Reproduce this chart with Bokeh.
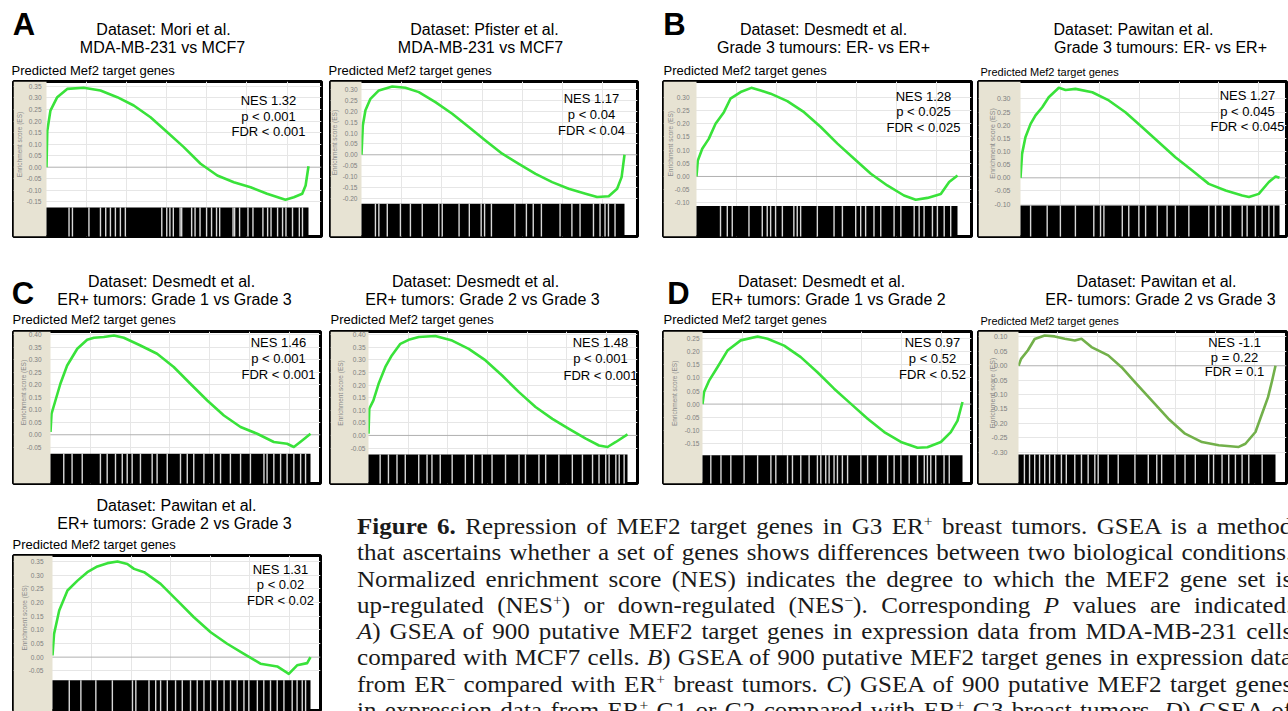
import math
from bokeh.plotting import figure
from bokeh.layouts import column, row
from bokeh.models import (Range1d, FixedTicker, Grid, BoxAnnotation, Span, Label,
                          Div, LinearAxis, NumeralTickFormatter)
from bokeh.core.properties import value
from bokeh.embed import file_html
from bokeh.resources import INLINE

FONT = "Liberation Sans"
BEIGE = "#e7e3d3"
GREEN = "#39e23a"
OLIVE = "#72b04a"

# ---------------- data: running enrichment score (x = fraction of ranked list) ----------------
A1_x = [0, 0.003, 0.015, 0.041, 0.079, 0.142, 0.206, 0.27, 0.333, 0.397, 0.46, 0.524, 0.588, 0.652, 0.715, 0.779, 0.842, 0.912, 0.944, 0.976, 0.989, 1.0]
A1_es = [0.0, 0.158, 0.245, 0.303, 0.339, 0.344, 0.332, 0.303, 0.267, 0.216, 0.152, 0.087, 0.015, -0.036, -0.065, -0.087, -0.115, -0.141, -0.13, -0.115, -0.079, 0.004]
A1_gaps = [0.086, 0.099, 0.162, 0.206, 0.226, 0.244, 0.263, 0.282, 0.301, 0.44, 0.459, 0.471, 0.484, 0.51, 0.516, 0.554, 0.567, 0.586, 0.611, 0.63, 0.649, 0.661, 0.712, 0.718, 0.737, 0.769, 0.788, 0.826, 0.844, 0.857, 0.882, 0.901, 0.914, 0.939, 0.965, 0.977]
A1_ticks = [-0.15, -0.10, -0.05, 0.0, 0.05, 0.10, 0.15, 0.20, 0.25, 0.30, 0.35]

A2_x = [0, 0.005, 0.015, 0.034, 0.066, 0.117, 0.167, 0.218, 0.281, 0.345, 0.408, 0.471, 0.535, 0.598, 0.662, 0.725, 0.788, 0.852, 0.896, 0.94, 0.972, 0.989, 1.0]
A2_es = [0.0, 0.135, 0.205, 0.258, 0.297, 0.315, 0.309, 0.289, 0.243, 0.189, 0.128, 0.066, 0.005, -0.042, -0.088, -0.126, -0.157, -0.18, -0.195, -0.191, -0.157, -0.103, 0.0]
A2_gaps = [0.053, 0.066, 0.098, 0.148, 0.186, 0.231, 0.294, 0.307, 0.371, 0.41, 0.455, 0.468, 0.494, 0.583, 0.627, 0.653, 0.684, 0.755, 0.8, 0.831, 0.882, 0.907, 0.926, 0.939, 0.964]
A2_ticks = [-0.20, -0.15, -0.10, -0.05, 0.0, 0.05, 0.10, 0.15, 0.20, 0.25, 0.30]

B1_x = [0, 0.005, 0.022, 0.047, 0.073, 0.105, 0.13, 0.169, 0.21, 0.246, 0.284, 0.348, 0.412, 0.476, 0.54, 0.604, 0.668, 0.731, 0.795, 0.84, 0.885, 0.936, 0.968, 1.0]
B1_es = [0.0, 0.06, 0.105, 0.142, 0.199, 0.243, 0.294, 0.319, 0.335, 0.325, 0.313, 0.285, 0.243, 0.187, 0.124, 0.067, 0.01, -0.034, -0.072, -0.088, -0.081, -0.066, -0.021, 0.004]
B1_gaps = [0.092, 0.118, 0.137, 0.201, 0.252, 0.271, 0.284, 0.303, 0.329, 0.373, 0.386, 0.399, 0.463, 0.527, 0.559, 0.61, 0.629, 0.648, 0.68, 0.706, 0.757, 0.783, 0.834, 0.853, 0.872, 0.904, 0.923, 0.949, 0.974]
B1_ticks = [-0.10, -0.05, 0.0, 0.05, 0.10, 0.15, 0.20, 0.25, 0.30]

B2_x = [0, 0.006, 0.019, 0.039, 0.058, 0.084, 0.109, 0.148, 0.174, 0.212, 0.277, 0.341, 0.405, 0.47, 0.534, 0.598, 0.663, 0.727, 0.792, 0.856, 0.882, 0.92, 0.959, 0.985, 1.0]
B2_es = [0.0, 0.091, 0.154, 0.205, 0.237, 0.268, 0.306, 0.342, 0.334, 0.338, 0.325, 0.294, 0.249, 0.192, 0.135, 0.078, 0.028, -0.023, -0.048, -0.067, -0.073, -0.061, -0.016, 0.005, 0.0]
B2_gaps = [0.039, 0.103, 0.154, 0.212, 0.283, 0.309, 0.322, 0.393, 0.418, 0.457, 0.483, 0.528, 0.566, 0.598, 0.65, 0.727, 0.753, 0.779, 0.811, 0.856, 0.875, 0.907, 0.933, 0.959, 0.978]
B2_ticks = [-0.10, -0.05, 0.0, 0.05, 0.10, 0.15, 0.20, 0.25, 0.30]

C1_x = [0, 0.004, 0.019, 0.038, 0.064, 0.103, 0.141, 0.167, 0.205, 0.244, 0.282, 0.346, 0.41, 0.474, 0.538, 0.603, 0.667, 0.731, 0.795, 0.859, 0.91, 0.936, 0.968, 1.0]
C1_es = [0.011, 0.084, 0.137, 0.204, 0.277, 0.344, 0.38, 0.388, 0.391, 0.397, 0.388, 0.357, 0.324, 0.271, 0.204, 0.137, 0.077, 0.031, 0.004, -0.029, -0.036, -0.049, -0.023, 0.004]
C1_gaps = [0.051, 0.083, 0.122, 0.192, 0.218, 0.25, 0.276, 0.295, 0.314, 0.346, 0.391, 0.41, 0.449, 0.5, 0.526, 0.551, 0.59, 0.628, 0.654, 0.692, 0.731, 0.769, 0.821, 0.833, 0.859, 0.885, 0.91, 0.936, 0.962, 0.981]
C1_ticks = [-0.05, 0.0, 0.05, 0.10, 0.15, 0.20, 0.25, 0.30, 0.35, 0.40]

C2_x = [0, 0.003, 0.019, 0.039, 0.065, 0.09, 0.123, 0.155, 0.194, 0.258, 0.323, 0.387, 0.452, 0.516, 0.581, 0.645, 0.71, 0.774, 0.839, 0.89, 0.923, 0.955, 1.0]
C2_es = [0.007, 0.106, 0.139, 0.205, 0.272, 0.318, 0.364, 0.38, 0.391, 0.395, 0.377, 0.344, 0.298, 0.238, 0.172, 0.113, 0.066, 0.026, -0.013, -0.04, -0.046, -0.026, 0.004]
C2_gaps = [0.045, 0.077, 0.11, 0.142, 0.194, 0.226, 0.245, 0.277, 0.323, 0.374, 0.406, 0.439, 0.477, 0.529, 0.581, 0.606, 0.658, 0.684, 0.735, 0.787, 0.826, 0.865, 0.89, 0.916, 0.929, 0.955, 0.968, 0.987]
C2_ticks = [-0.05, 0.0, 0.05, 0.10, 0.15, 0.20, 0.25, 0.30, 0.35, 0.40]

D1_x = [0, 0.006, 0.026, 0.058, 0.096, 0.147, 0.212, 0.25, 0.314, 0.378, 0.442, 0.506, 0.571, 0.635, 0.699, 0.763, 0.827, 0.865, 0.917, 0.955, 0.981, 1.0]
D1_es = [0.0, 0.046, 0.091, 0.142, 0.205, 0.244, 0.259, 0.25, 0.224, 0.18, 0.122, 0.059, 0.001, -0.056, -0.107, -0.145, -0.167, -0.165, -0.145, -0.107, -0.063, 0.008]
D1_gaps = [0.032, 0.071, 0.109, 0.16, 0.212, 0.263, 0.282, 0.327, 0.346, 0.378, 0.41, 0.442, 0.455, 0.474, 0.487, 0.506, 0.519, 0.538, 0.558, 0.609, 0.635, 0.673, 0.712, 0.737, 0.763, 0.795, 0.827, 0.853, 0.865, 0.878, 0.897, 0.929, 0.949]
D1_ticks = [-0.15, -0.10, -0.05, 0.0, 0.05, 0.10, 0.15, 0.20, 0.25]

D2_x = [0, 0.01, 0.036, 0.063, 0.102, 0.141, 0.18, 0.219, 0.245, 0.284, 0.349, 0.401, 0.453, 0.518, 0.583, 0.648, 0.714, 0.779, 0.857, 0.883, 0.922, 0.948, 0.971, 0.987, 1.0]
D2_es = [0.0, 0.024, 0.053, 0.093, 0.105, 0.102, 0.094, 0.088, 0.094, 0.065, 0.036, -0.005, -0.057, -0.12, -0.184, -0.236, -0.265, -0.276, -0.282, -0.271, -0.23, -0.166, -0.109, -0.051, 0.0]
D2_gaps = [0.023, 0.043, 0.063, 0.082, 0.102, 0.121, 0.141, 0.167, 0.186, 0.219, 0.245, 0.271, 0.297, 0.31, 0.349, 0.388, 0.453, 0.505, 0.538, 0.557, 0.609, 0.648, 0.688, 0.74, 0.759, 0.792, 0.818, 0.844, 0.87, 0.896, 0.948]
D2_ticks = [-0.30, -0.25, -0.20, -0.15, -0.10, -0.05, 0.0, 0.05, 0.10]

C3_x = [0, 0.006, 0.026, 0.058, 0.097, 0.135, 0.174, 0.213, 0.252, 0.29, 0.316, 0.355, 0.419, 0.484, 0.548, 0.613, 0.677, 0.742, 0.806, 0.871, 0.916, 0.948, 0.987, 1.0]
C3_es = [0.006, 0.085, 0.171, 0.244, 0.28, 0.311, 0.332, 0.344, 0.35, 0.341, 0.323, 0.311, 0.268, 0.207, 0.146, 0.091, 0.049, 0.012, -0.024, -0.034, -0.061, -0.03, -0.022, 0.0]
C3_gaps = [0.065, 0.11, 0.168, 0.232, 0.31, 0.323, 0.374, 0.4, 0.419, 0.445, 0.477, 0.503, 0.535, 0.561, 0.587, 0.613, 0.639, 0.665, 0.69, 0.716, 0.742, 0.761, 0.794, 0.819, 0.845, 0.871, 0.897, 0.929, 0.948, 0.968, 0.981]
C3_ticks = [-0.05, 0.0, 0.05, 0.10, 0.15, 0.20, 0.25, 0.30, 0.35]

XGRID = [0.153, 0.306, 0.459, 0.612, 0.765, 0.918]

# ---------------- texts ----------------
A1_titles = ["Dataset: Mori et al.", "MDA-MB-231 vs MCF7"]
A2_titles = ["Dataset: Pfister et al.", "MDA-MB-231 vs MCF7"]
B1_titles = ["Dataset: Desmedt et al.", "Grade 3 tumours: ER- vs ER+"]
B2_titles = ["Dataset: Pawitan et al.", "Grade 3 tumours: ER- vs ER+"]
C1_titles = ["Dataset: Desmedt et al.", "ER+ tumors: Grade 1 vs Grade 3"]
C2_titles = ["Dataset: Desmedt et al.", "ER+ tumors: Grade 2 vs Grade 3"]
D1_titles = ["Dataset: Desmedt et al.", "ER+ tumors: Grade 1 vs Grade 2"]
D2_titles = ["Dataset: Pawitan et al.", "ER- tumors: Grade 2 vs Grade 3"]
C3_titles = ["Dataset: Pawitan et al.", "ER+ tumors: Grade 2 vs Grade 3"]

A1_nes = ["NES 1.32", "p < 0.001", "FDR < 0.001"]
A2_nes = ["NES 1.17", "p < 0.04", "FDR < 0.04"]
B1_nes = ["NES 1.28", "p < 0.025", "FDR < 0.025"]
B2_nes = ["NES 1.27", "p < 0.045", "FDR < 0.045"]
C1_nes = ["NES 1.46", "p < 0.001", "FDR < 0.001"]
C2_nes = ["NES 1.48", "p < 0.001", "FDR < 0.001"]
D1_nes = ["NES 0.97", "p < 0.52", "FDR < 0.52"]
D2_nes = ["NES -1.1", "p = 0.22", "FDR = 0.1"]
C3_nes = ["NES 1.31", "p < 0.02", "FDR < 0.02"]

GENESET = "Predicted Mef2 target genes"
YLABEL = "Enrichment score (ES)"

CAPTION_LINES = [
    "<b>Figure 6.</b> Repression of MEF2 target genes in G3 ER<sup>+</sup> breast tumors. GSEA is a method",
    "that ascertains whether a set of genes shows differences between two biological conditions.",
    "Normalized enrichment score (NES) indicates the degree to which the MEF2 gene set is",
    "up-regulated (NES<sup>+</sup>) or down-regulated (NES<sup>&minus;</sup>). Corresponding <i>P</i> values are indicated.",
    "<i>A</i>) GSEA of 900 putative MEF2 target genes in expression data from MDA-MB-231 cells",
    "compared with MCF7 cells. <i>B</i>) GSEA of 900 putative MEF2 target genes in expression data",
    "from ER<sup>&minus;</sup> compared with ER<sup>+</sup> breast tumors. <i>C</i>) GSEA of 900 putative MEF2 target genes",
    "in expression data from ER<sup>+</sup> G1 or G2 compared with ER<sup>+</sup> G3 breast tumors. <i>D</i>) GSEA of",
]

# ---------------- layout (screen pixel geometry; page origin at 0,0) ----------------
ROW1 = dict(y0=0, H=262, hh=78, ft=81, fh=155)
ROW2 = dict(y0=262, H=226, hh=66, ft=69, fh=152)
ROW3 = dict(y0=488, H=223, hh=64, ft=67, fh=156)


def cell(rowg, x0, W, **kw):
    d = dict(rowg)
    d.update(x0=x0, W=W)
    d.update(kw)
    return d


L_A1 = cell(ROW1, 0, 325, fl=13, fw=308, strip=33, pe=295, ylo=-0.300, yhi=0.371, st=-0.1745, tg=5, el=5.5,
            tpos=[(163, 29), (162, 47)], ppos=(11, 70, 13), npos=(268, [100, 116, 131]), letter=("A", 23.5, 23.5))
L_A2 = cell(ROW1, 325, 325, fl=5, fw=307, strip=31, pe=294, ylo=-0.377, yhi=0.338, st=-0.226, tg=4, el=3.5,
            tpos=[(484, 29), (480, 47)], ppos=(328, 70, 13), npos=(591, [98, 114, 130]), letter=None)
L_B1 = cell(ROW1, 650, 326, fl=13, fw=308, strip=33, pe=294, ylo=-0.227, yhi=0.359, st=-0.112, tg=7, el=7,
            tpos=[(823, 29), (823, 47)], ppos=(663, 70, 13), npos=(923, [96, 111, 127]), letter=("B", 674, 23.5))
L_B2 = cell(ROW1, 976, 312, fl=2, fw=308, strip=42, pe=301, ylo=-0.223, yhi=0.366, st=-0.105, tg=10, el=13.5,
            tpos=[(1133, 29), (1160, 47)], ppos=(980, 71, 11), npos=(1247, [95, 111, 126]), letter=None)
L_C1 = cell(ROW2, 0, 325, fl=13, fw=307, strip=37, pe=297, ylo=-0.195, yhi=0.413, st=-0.076, tg=9, el=9.5,
            tpos=[(171, 281), (174, 299)], ppos=(12, 319, 13), npos=(278, [342, 358, 374]), letter=("C", 22.5, 292.5))
L_C2 = cell(ROW2, 325, 325, fl=5, fw=307, strip=38, pe=297, ylo=-0.191, yhi=0.413, st=-0.0755, tg=3, el=10,
            tpos=[(475, 281), (482, 299)], ppos=(330, 319, 13), npos=(600, [342, 358, 375]), letter=None)
L_D1 = cell(ROW2, 650, 326, fl=13, fw=308, strip=39, pe=299, ylo=-0.304, yhi=0.278, st=-0.196, tg=3, el=11,
            tpos=[(821, 281), (828, 299)], ppos=(663, 319, 13), npos=(932, [342, 358, 374]), letter=("D", 678, 292.5))
L_D2 = cell(ROW2, 976, 312, fl=2, fw=308, strip=40, pe=297, ylo=-0.409, yhi=0.119, st=-0.308, tg=11, el=13.5,
            tpos=[(1156, 281), (1160, 299)], ppos=(980, 320, 11), npos=(1234, [342, 357, 371]), letter=None)
L_C3 = cell(ROW3, 0, 325, fl=13, fw=307, strip=39, pe=297, ylo=-0.199, yhi=0.372, st=-0.085, tg=9, el=11,
            tpos=[(176, 505), (174, 523)], ppos=(12, 544, 13), npos=(280, [569, 584, 600]), letter=None)


def header(L, titles):
    x0, y0, W, hh = L["x0"], L["y0"], L["W"], L["hh"]
    h = figure(width=W, height=hh, x_range=Range1d(x0, x0 + W), y_range=Range1d(y0 + hh, y0),
               x_axis_type=None, y_axis_type=None, toolbar_location=None, output_backend="svg",
               min_border=0, min_border_left=0, min_border_right=0, min_border_top=0,
               min_border_bottom=0, outline_line_color=None)
    h.frame_align = False
    h.background_fill_color = "white"
    h.border_fill_color = "white"
    tx = [c[0] for c in L["tpos"]]
    ty = [c[1] for c in L["tpos"]]
    h.text(x=tx, y=ty, text=titles, text_align="center", text_baseline="middle",
           text_font=value(FONT), text_font_size="16px", text_color="black")
    px_, py_, pfs = L["ppos"]
    h.text(x=[px_], y=[py_], text=[GENESET], text_align="left", text_baseline="middle",
           text_font=value(FONT), text_font_size="%spx" % pfs, text_color="black")
    if L["letter"]:
        lt, lx, ly = L["letter"]
        h.text(x=[lx], y=[ly], text=[lt], text_align="center", text_baseline="middle",
               text_font=value(FONT), text_font_size="31px", text_font_style="bold", text_color="black")
    return h


def panel(L, xs, es, gaps, yticks, nes, color, small=False):
    x0, W = L["x0"], L["W"]
    y0 = L["y0"] + L["hh"]
    H = L["H"] - L["hh"]
    fl, fw, fh = L["fl"], L["fw"], L["fh"]
    ft = L["ft"] - L["hh"]
    s, pe = L["strip"], L["pe"]
    xlo = -s / (pe - s)
    xhi = (fw - s) / (pe - s)
    ylo, yhi, st = L["ylo"], L["yhi"], L["st"]

    def X(px):
        return xlo + (px - x0 - fl) / fw * (xhi - xlo)

    def Y(py):
        return yhi - (py - y0 - ft) / fh * (yhi - ylo)

    p = figure(width=W, height=H, x_range=Range1d(xlo, xhi), y_range=Range1d(ylo, yhi),
               x_axis_type=None, y_axis_type=None, toolbar_location=None, output_backend="svg",
               min_border_left=fl, min_border_top=ft, min_border_right=W - fl - fw,
               min_border_bottom=H - ft - fh)
    p.frame_align = False
    p.outline_line_color = "black"
    p.outline_line_width = 3
    p.background_fill_color = "white"
    p.border_fill_color = "white"

    p.add_layout(Grid(dimension=0, ticker=FixedTicker(ticks=XGRID), grid_line_color="#e6e6e6"))
    p.add_layout(Grid(dimension=1, ticker=FixedTicker(ticks=[t for t in yticks if t != 0]),
                      grid_line_color="#e6e6e6"))
    p.add_layout(Span(location=0, dimension="width", line_color="#b0b0b0", line_width=1, level="underlay"))
    p.add_layout(BoxAnnotation(right=0, fill_color=BEIGE, fill_alpha=1, line_alpha=0, level="glyph"))
    p.add_layout(BoxAnnotation(left=0, right=1, top=st, fill_color="black", fill_alpha=1,
                               line_alpha=0, level="glyph"))
    seg = p.segment(x0=gaps, x1=gaps, y0=ylo, y1=st, line_color="white", line_width=1.4, line_alpha=0.85)
    seg.level = "annotation"
    p.line(xs, es, line_color=color, line_width=2.6, line_join="round")

    tick_fs = "7px" if small else "6.5px"
    ax = LinearAxis(ticker=FixedTicker(ticks=yticks), formatter=NumeralTickFormatter(format="0.00"),
                    major_label_standoff=-(s - L["tg"]), major_tick_out=0, major_tick_in=0,
                    minor_tick_out=0, minor_tick_in=0, axis_line_color=None,
                    major_label_text_font=FONT, major_label_text_font_size=tick_fs,
                    major_label_text_color="#808080")
    p.add_layout(ax, "left")

    p.add_layout(Label(x=X(x0 + fl + L["el"]), y=(yhi + st) / 2, text=YLABEL, angle=math.pi / 2,
                       text_align="center", text_baseline="middle", text_font=FONT,
                       text_font_size="7px" if small else "6.5px", text_color="#8a8a8a"))

    ncx, ncys = L["npos"]
    for t, cy in zip(nes, ncys):
        p.add_layout(Label(x=X(ncx), y=Y(cy), text=t, text_align="center", text_baseline="middle",
                           text_font=FONT, text_font_size="13px", text_color="black"))
    return p


def make_cell(L, xs, es, gaps, yticks, titles, nes, color, small=False):
    return column(header(L, titles), panel(L, xs, es, gaps, yticks, nes, color, small))


cA1 = make_cell(L_A1, A1_x, A1_es, A1_gaps, A1_ticks, A1_titles, A1_nes, GREEN)
cA2 = make_cell(L_A2, A2_x, A2_es, A2_gaps, A2_ticks, A2_titles, A2_nes, GREEN)
cB1 = make_cell(L_B1, B1_x, B1_es, B1_gaps, B1_ticks, B1_titles, B1_nes, GREEN)
cB2 = make_cell(L_B2, B2_x, B2_es, B2_gaps, B2_ticks, B2_titles, B2_nes, GREEN, small=True)
cC1 = make_cell(L_C1, C1_x, C1_es, C1_gaps, C1_ticks, C1_titles, C1_nes, GREEN)
cC2 = make_cell(L_C2, C2_x, C2_es, C2_gaps, C2_ticks, C2_titles, C2_nes, GREEN)
cD1 = make_cell(L_D1, D1_x, D1_es, D1_gaps, D1_ticks, D1_titles, D1_nes, GREEN)
cD2 = make_cell(L_D2, D2_x, D2_es, D2_gaps, D2_ticks, D2_titles, D2_nes, OLIVE, small=True)
cC3 = make_cell(L_C3, C3_x, C3_es, C3_gaps, C3_ticks, C3_titles, C3_nes, GREEN)

# justified caption: each line stretched to the same right edge, as in the printed page
sup_css = "font-size:0.62em;line-height:0;vertical-align:0.55em;"
line_div = "<div style=\"width:858px;text-align:justify;text-align-last:justify;\">%s</div>"
cap_body = "".join(line_div % ln for ln in CAPTION_LINES).replace("<sup>", "<sup style=\"%s\">" % sup_css)
cap_html = ("<div style=\"width:963px;height:223px;overflow:hidden;\">"
            "<div style=\"margin-left:32px;padding-top:26px;"
            "transform:scaleX(1.09);transform-origin:0 0;"
            "font-family:'Liberation Serif',serif;font-size:23px;line-height:26.3px;color:#1a1a1a;\">"
            + cap_body + "</div></div>")
caption = Div(text=cap_html, width=963, height=223, margin=(0, 0, 0, 0))

page = column(row(cA1, cA2, cB1, cB2), row(cC1, cC2, cD1, cD2), row(cC3, caption))

open("out.html", "w").write(file_html(page, INLINE, title="Figure 6"))
